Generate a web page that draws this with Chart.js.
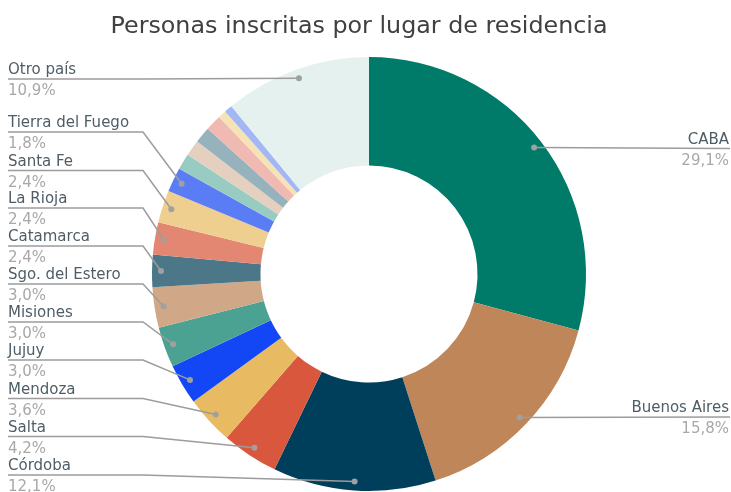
<!DOCTYPE html>
<html>
<head>
<meta charset="utf-8">
<script src="https://cdn.jsdelivr.net/npm/chart.js@4"></script>
<style>
  body { margin: 0; background: #fff; }
  #wrap { width: 731px; height: 492px; }
</style>
</head>
<body>
<div id="wrap"><canvas id="residenciaChart"></canvas></div>
<script>
  const titulo = 'Personas inscritas por lugar de residencia';

  // lugares de residencia (las porciones chicas no tienen etiqueta en el original)
  const lugares = ['CABA', 'Buenos Aires', 'Córdoba', 'Salta', 'Mendoza', 'Jujuy', 'Misiones',
    'Sgo. del Estero', 'Catamarca', 'La Rioja', 'Santa Fe', 'Tierra del Fuego',
    '', '', '', '', '', '', 'Otro país'];

  // porcentaje de personas inscritas
  const porcentajes = [29.1, 15.8, 12.1, 4.2, 3.6, 3.0, 3.0, 3.0, 2.4, 2.4, 2.4, 1.8,
    1.2, 1.2, 1.2, 1.2, 0.6, 0.6, 10.9];

  const colores = ['#007a69', '#be8659', '#003f5c', '#d9573c', '#e8bb63', '#1347f5', '#4ba192',
    '#d1a887', '#4b7789', '#e38672', '#efcf8f', '#5a7df5',
    '#98cbc1', '#e5cfbf', '#96b2bc', '#f0b9b2', '#f5e3b6', '#a3b7f5', '#e5f1ef'];

  // donde va cada etiqueta: lado y altura de la linea guia
  const etiquetas = {
    0: ['right', 148.5], 1: ['right', 417],
    2: ['left', 475], 3: ['left', 436.5], 4: ['left', 398.5], 5: ['left', 360],
    6: ['left', 322], 7: ['left', 284], 8: ['left', 246], 9: ['left', 208],
    10: ['left', 170.5], 11: ['left', 132], 18: ['left', 79]
  };

  const fuente = '"DejaVu Sans", Verdana, sans-serif';

  const etiquetasPlugin = {
    id: 'etiquetas',
    afterDraw(chart) {
      const ctx = chart.ctx;
      ctx.save();

      // titulo
      ctx.font = '25px ' + fuente;
      let w = ctx.measureText(titulo).width;
      let size = 25 * 498 / w;
      ctx.font = size.toFixed(1) + 'px ' + fuente;
      ctx.fillStyle = '#404040';
      ctx.textAlign = 'center';
      ctx.textBaseline = 'alphabetic';
      ctx.fillText(titulo, 359, 33);

      const arcs = chart.getDatasetMeta(0).data;
      ctx.font = '15px ' + fuente;
      Object.keys(etiquetas).forEach(k => {
        const i = Number(k);
        const [lado, y] = etiquetas[i];
        const a = arcs[i];
        const mid = (a.startAngle + a.endAngle) / 2;
        const r = a.outerRadius - 9;
        const dx = a.x + Math.cos(mid) * r;
        const dy = a.y + Math.sin(mid) * r;

        ctx.strokeStyle = '#9c9c9c';
        ctx.lineWidth = 1.5;
        ctx.beginPath();
        if (lado === 'left') {
          ctx.moveTo(8, y);
          ctx.lineTo(143, y);
          ctx.lineTo(dx, dy);
        } else {
          ctx.moveTo(dx, dy);
          ctx.lineTo(730, y);
        }
        ctx.stroke();

        ctx.fillStyle = '#a0a0a0';
        ctx.beginPath();
        ctx.arc(dx, dy, 3, 0, Math.PI * 2);
        ctx.fill();

        const tx = lado === 'left' ? 8 : 729;
        ctx.textAlign = lado === 'left' ? 'left' : 'right';
        ctx.fillStyle = '#4e5d66';
        ctx.fillText(lugares[i], tx, y - 5);
        ctx.fillStyle = '#a8a8a8';
        ctx.fillText(porcentajes[i].toFixed(1).replace('.', ',') + '%', tx, y + 16);
      });
      ctx.restore();
    }
  };

  const ctx1 = document.getElementById('residenciaChart').getContext('2d');

  const residenciaChart = new Chart(ctx1, {
    type: 'doughnut',
    data: {
      labels: lugares,
      datasets: [{
        data: porcentajes,
        backgroundColor: colores,
        borderWidth: 0
      }]
    },
    options: {
      responsive: true,
      maintainAspectRatio: false,
      animation: false,
      cutout: '50%',
      layout: { padding: { top: 57, bottom: 1, left: 7, right: 0 } },
      plugins: {
        legend: { display: false },
        tooltip: { enabled: false }
      }
    },
    plugins: [etiquetasPlugin]
  });
</script>
</body>
</html>
